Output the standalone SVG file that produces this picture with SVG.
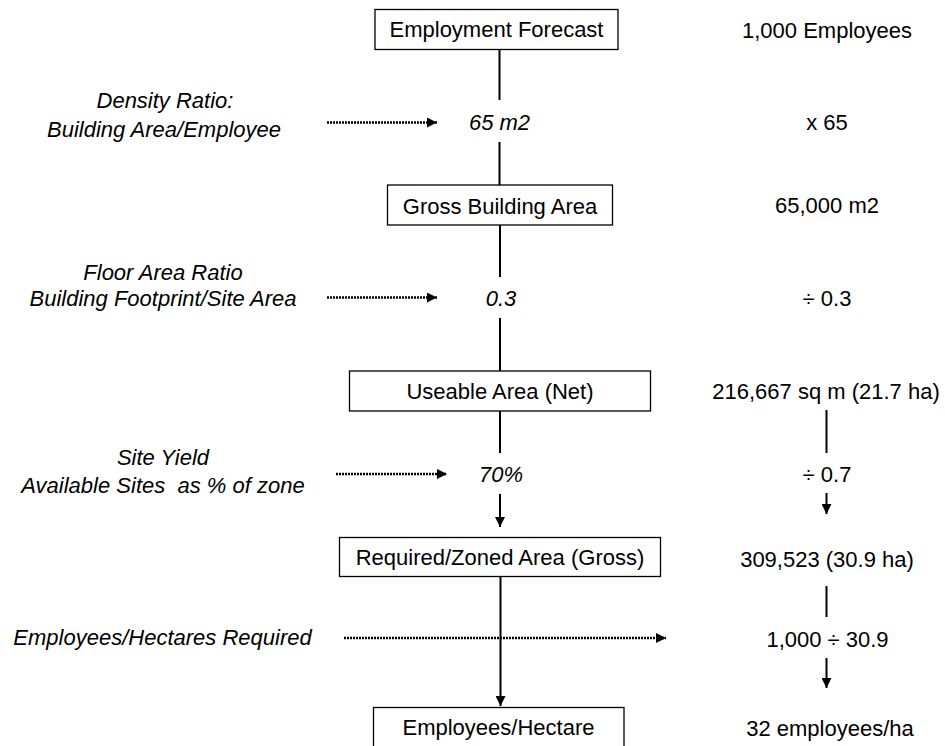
<svg xmlns="http://www.w3.org/2000/svg" width="945" height="746" viewBox="0 0 945 746">
<style>
text{font-family:"Liberation Sans",Arial,sans-serif;font-size:22px;fill:#000;text-anchor:middle}
.it{font-style:italic}
.box{fill:#fff;stroke:#000;stroke-width:1.3}
.ln{stroke:#000;stroke-width:2;fill:none}
.dot{stroke:#000;stroke-width:2.4;stroke-dasharray:2 1;fill:none}
</style>
<defs>
<marker id="ah" viewBox="0 0 10 10" refX="10" refY="5" markerUnits="userSpaceOnUse" markerWidth="11" markerHeight="10" orient="auto">
<path d="M0,0 L10,5 L0,10 Z" fill="#000"/>
</marker>
</defs>
<rect width="945" height="746" fill="#fff"/>
<g id="connectors">
<line class="ln" x1="499.5" y1="49" x2="499.5" y2="100"/>
<line class="ln" x1="499.5" y1="142" x2="499.5" y2="185"/>
<line class="ln" x1="500" y1="225" x2="500" y2="277"/>
<line class="ln" x1="500" y1="318" x2="500" y2="371"/>
<line class="ln" x1="500" y1="411" x2="500" y2="453"/>
<line class="ln" x1="500" y1="494" x2="500" y2="527" marker-end="url(#ah)"/>
<line class="ln" x1="500.5" y1="577" x2="500.5" y2="706" marker-end="url(#ah)"/>
<line class="dot" x1="327" y1="122.5" x2="437" y2="122.5" marker-end="url(#ah)"/>
<line class="dot" x1="327" y1="297.5" x2="437" y2="297.5" marker-end="url(#ah)"/>
<line class="dot" x1="336" y1="474" x2="447" y2="474" marker-end="url(#ah)"/>
<line class="dot" x1="344" y1="638" x2="666" y2="638" marker-end="url(#ah)"/>
<line class="ln" x1="826.5" y1="410" x2="826.5" y2="453"/>
<line class="ln" x1="826.5" y1="493" x2="826.5" y2="514" marker-end="url(#ah)"/>
<line class="ln" x1="826.5" y1="586" x2="826.5" y2="617"/>
<line class="ln" x1="826.5" y1="658" x2="826.5" y2="688" marker-end="url(#ah)"/>
</g>
<g id="employment-forecast"><rect class="box" x="375" y="9.5" width="243" height="40"/><text x="496.5" y="37">Employment Forecast</text></g>
<g id="density"><text class="it" x="499.5" y="130">65 m2</text></g>
<g id="gross-building-area"><rect class="box" x="387.5" y="185" width="225" height="40"/><text x="500" y="214">Gross Building Area</text></g>
<g id="far"><text class="it" x="501" y="306">0.3</text></g>
<g id="useable-area"><rect class="box" x="349.5" y="371" width="301" height="40"/><text x="500" y="399">Useable Area (Net)</text></g>
<g id="site-yield"><text class="it" x="501" y="482">70%</text></g>
<g id="required-area"><rect class="box" x="339.5" y="537.5" width="321" height="39"/><text x="500" y="565">Required/Zoned Area (Gross)</text></g>
<g id="employees-hectare"><rect class="box" x="373.5" y="707.5" width="250.5" height="50"/><text x="498.5" y="735">Employees/Hectare</text></g>
<g id="left-labels">
<text class="it" x="165" y="108">Density Ratio:</text>
<text class="it" x="164" y="137">Building Area/Employee</text>
<text class="it" x="163" y="280">Floor Area Ratio</text>
<text class="it" x="163" y="306">Building Footprint/Site Area</text>
<text class="it" x="163" y="465">Site Yield</text>
<text class="it" x="163" y="493" xml:space="preserve" style="white-space:pre">Available Sites  as % of zone</text>
<text class="it" x="162.5" y="645">Employees/Hectares Required</text>
</g>
<g id="right-values">
<text x="827" y="38">1,000 Employees</text>
<text x="827" y="130">x 65</text>
<text x="827" y="213">65,000 m2</text>
<text x="827" y="306">÷ 0.3</text>
<text x="826" y="399">216,667 sq m (21.7 ha)</text>
<text x="827" y="482">÷ 0.7</text>
<text x="827" y="567">309,523 (30.9 ha)</text>
<text x="827.5" y="647">1,000 ÷ 30.9</text>
<text x="830" y="736">32 employees/ha</text>
</g>
</svg>
